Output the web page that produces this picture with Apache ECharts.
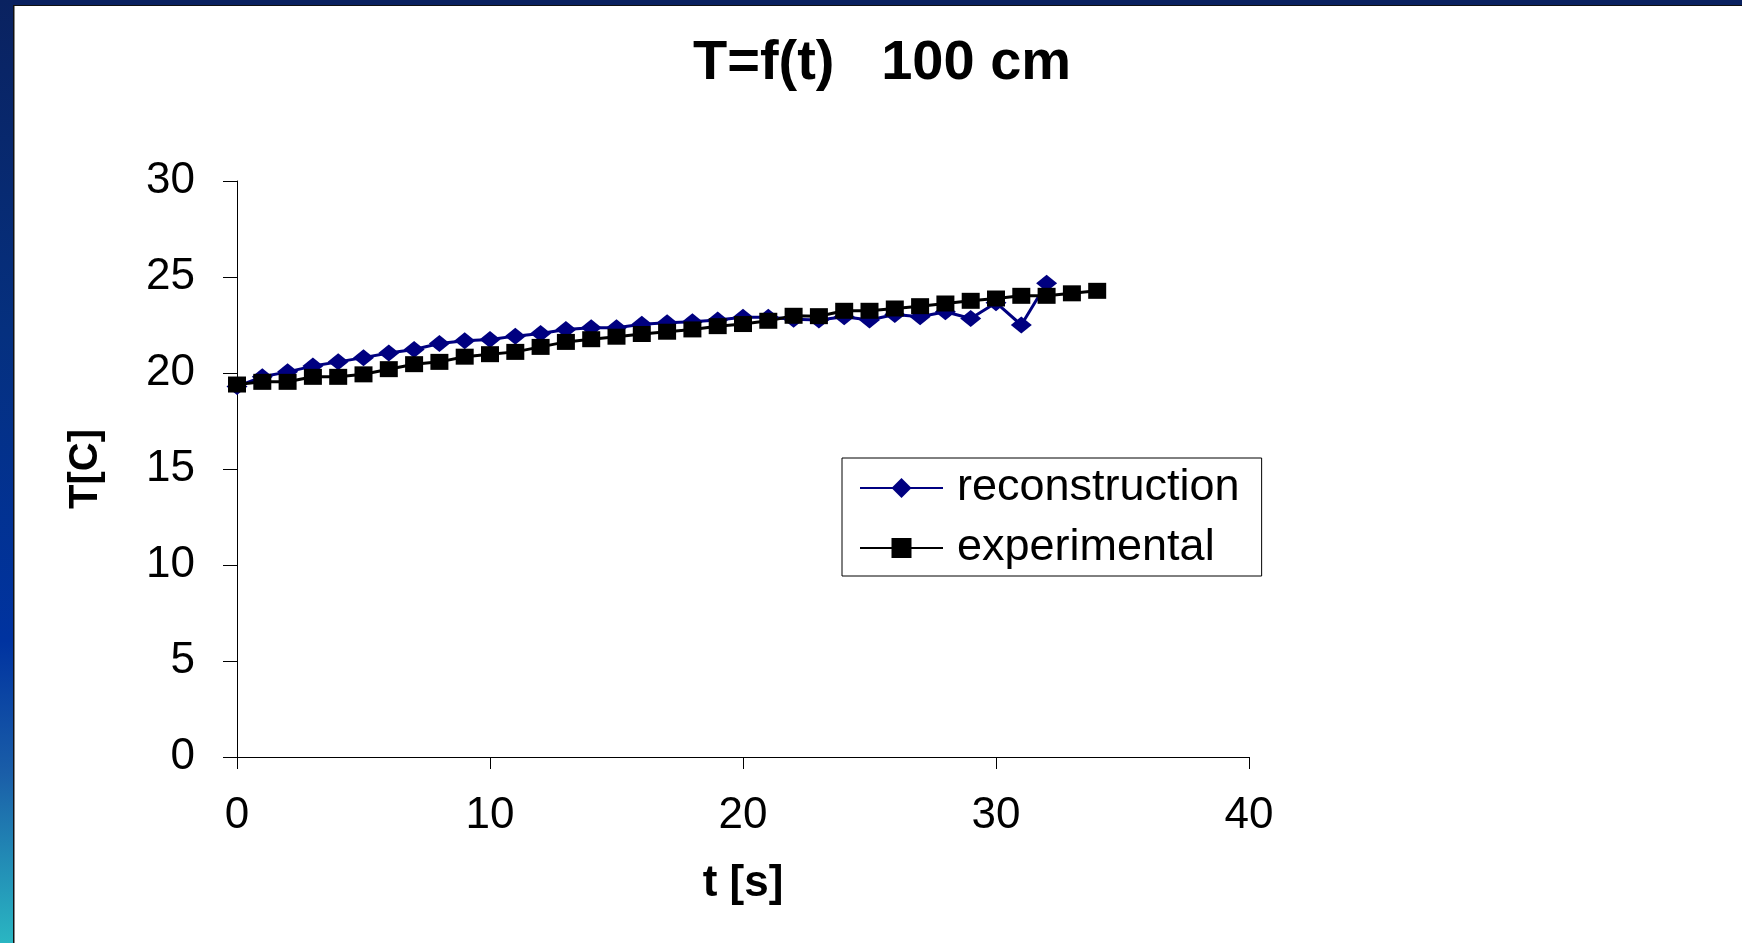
<!DOCTYPE html>
<html>
<head>
<meta charset="utf-8">
<script src="https://cdn.jsdelivr.net/npm/echarts@6/dist/echarts.min.js"></script>
<style>
html,body{margin:0;padding:0;background:#fff;}
#chart{width:1742px;height:943px;}
</style>
</head>
<body>
<div id="chart"></div>
<script>
// Data
const timeSeconds = [0,1,2,3,4,5,6,7,8,9,10,11,12,13,14,15,16,17,18,19,20,21,22,23,24,25,26,27,28,29,30,31,32,33,34];
const reconstruction = [19.3,19.8,20.06,20.36,20.58,20.8,21.04,21.22,21.54,21.68,21.75,21.92,22.06,22.27,22.36,22.36,22.54,22.62,22.67,22.76,22.9,22.9,22.8,22.76,22.93,22.76,23.05,22.93,23.19,22.84,23.66,22.5,24.67];
const experimental = [19.4,19.54,19.54,19.8,19.8,19.93,20.2,20.46,20.58,20.85,20.98,21.1,21.36,21.62,21.76,21.89,22.03,22.15,22.27,22.44,22.55,22.72,22.98,22.96,23.24,23.24,23.36,23.48,23.62,23.76,23.88,24.02,24.02,24.15,24.28];
const seriesNames = ['reconstruction','experimental'];
const xTicks = {min:0, max:40, interval:10};
const yTicks = {min:0, max:30, interval:5};

const FONT = '"Liberation Sans", Arial, sans-serif';
const pairs = (vals) => vals.map((v,i) => [timeSeconds[i], v]);

const chart = echarts.init(document.getElementById('chart'), null, {renderer:'canvas'});
chart.setOption({
  backgroundColor:'#ffffff',
  animation:false,
  graphic:[
    {type:'rect', left:0, top:0, z:-10, shape:{width:1742, height:5},
     style:{fill:'#0a2160'}},
    {type:'rect', left:0, top:0, z:-10, shape:{width:13, height:943},
     style:{fill:new echarts.graphic.LinearGradient(0,0,0,1,[
       {offset:0, color:'#0a2260'},
       {offset:0.35, color:'#05307f'},
       {offset:0.68, color:'#0033a0'},
       {offset:0.82, color:'#1a5ea8'},
       {offset:1, color:'#2ab6c2'}])}},
    {type:'rect', left:13, top:5, z:-9, shape:{width:1, height:938}, style:{fill:'#111'}},
    {type:'rect', left:13, top:5, z:-9, shape:{width:1729, height:1}, style:{fill:'#111'}},
    {type:'rect', left:14, top:6, z:-9, shape:{width:1, height:937}, style:{fill:'#888'}}
  ],
  title:{
    text:'T=f(t)   100 cm',
    left:688, top:31,
    textStyle:{fontFamily:FONT, fontSize:56, fontWeight:'bold', color:'#000'}
  },
  grid:{left:237, right:493, top:181, bottom:186, containLabel:false},
  legend:{
    orient:'vertical',
    left:842, top:458,
    padding:[6,22,4,17],
    itemGap:12,
    itemWidth:83, itemHeight:25,
    borderColor:'#000', borderWidth:1,
    backgroundColor:'#fff',
    textStyle:{fontFamily:FONT, fontSize:45, color:'#000', lineHeight:48, padding:[0,0,0,9]},
    data:seriesNames
  },
  xAxis:{
    type:'value', min:xTicks.min, max:xTicks.max, interval:xTicks.interval,
    name:'t [s]', nameLocation:'middle', nameGap:105,
    nameTextStyle:{fontFamily:FONT, fontSize:44, fontWeight:'bold', color:'#000'},
    axisLine:{show:true, onZero:false, lineStyle:{color:'#000', width:1}},
    axisTick:{show:true, inside:false, length:12, lineStyle:{color:'#000', width:1}},
    axisLabel:{fontFamily:FONT, fontSize:44, color:'#000', margin:37},
    splitLine:{show:false}
  },
  yAxis:{
    type:'value', min:yTicks.min, max:yTicks.max, interval:yTicks.interval,
    name:'T[C]', nameLocation:'middle', nameGap:131,
    nameTextStyle:{fontFamily:FONT, fontSize:40, fontWeight:'bold', color:'#000'},
    axisLine:{show:true, onZero:false, lineStyle:{color:'#000', width:1}},
    axisTick:{show:true, inside:false, length:14, lineStyle:{color:'#000', width:1}},
    axisLabel:{fontFamily:FONT, fontSize:44, color:'#000', margin:42},
    splitLine:{show:false}
  },
  series:[
    {name:seriesNames[0], type:'line', data:pairs(reconstruction),
     symbol:'diamond', symbolSize:[21,17], showAllSymbol:true,
     lineStyle:{color:'#000080', width:3},
     itemStyle:{color:'#000080', borderWidth:0},
     emphasis:{disabled:true}},
    {name:seriesNames[1], type:'line', data:pairs(experimental),
     symbol:'rect', symbolSize:[18,16], showAllSymbol:true,
     lineStyle:{color:'#000', width:3},
     itemStyle:{color:'#000', borderWidth:0},
     emphasis:{disabled:true}}
  ]
});
</script>
</body>
</html>
